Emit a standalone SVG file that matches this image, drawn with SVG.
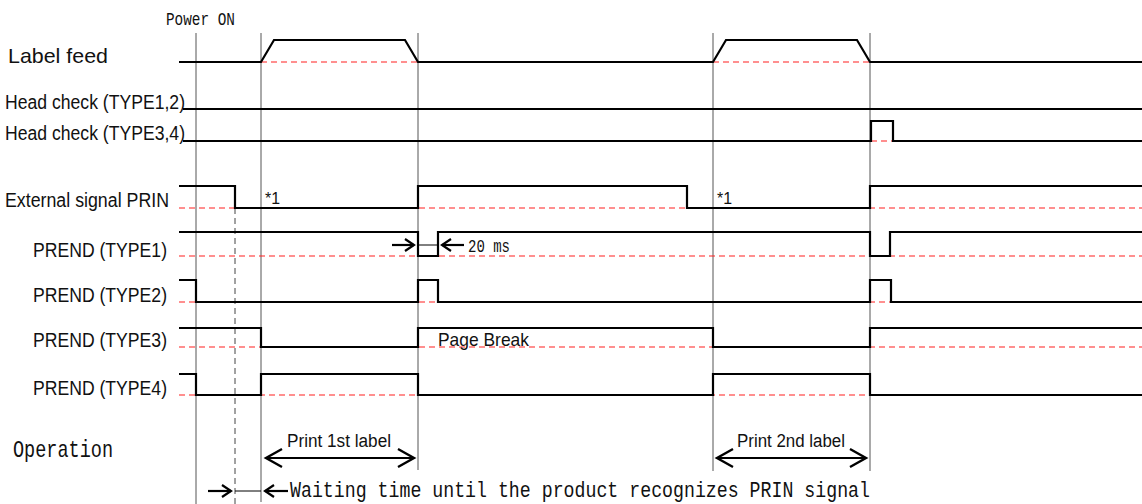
<svg xmlns="http://www.w3.org/2000/svg" width="1142" height="504" viewBox="0 0 1142 504">
<style>
.sig{fill:none;stroke:#000;stroke-width:2.2;stroke-linejoin:miter}
.ref{fill:none;stroke:#ff2020;stroke-width:1.2;stroke-dasharray:6 4}
.vl{fill:none;stroke:#555;stroke-width:1}
.vd{fill:none;stroke:#444;stroke-width:1;stroke-dasharray:6 4}
.thin{fill:none;stroke:#000;stroke-width:1}
.arr{fill:none;stroke:#000;stroke-width:2.2}
.sans{font-family:"Liberation Sans",Arial,sans-serif;fill:#111}
.mono{font-family:"Liberation Mono","Courier New",monospace;fill:#111}
</style>
<defs>
<marker id="big" markerUnits="userSpaceOnUse" markerWidth="22" markerHeight="22" viewBox="0 0 22 22" refX="19" refY="11" orient="auto-start-reverse">
<path d="M3,2 L19,11 L3,20" fill="none" stroke="#000" stroke-width="2.4"/>
</marker>
<marker id="small" markerUnits="userSpaceOnUse" markerWidth="14" markerHeight="16" viewBox="0 0 14 16" refX="12" refY="8" orient="auto-start-reverse">
<path d="M3,2 L12,8 L3,14" fill="none" stroke="#000" stroke-width="2.2"/>
</marker>
</defs>

<g id="gridlines">
<line class="vl" x1="196" y1="33" x2="196" y2="504"/>
<line class="vl" x1="261" y1="33" x2="261" y2="502"/>
<line class="vl" x1="418" y1="33" x2="418" y2="470"/>
<line class="vl" x1="713" y1="33" x2="713" y2="471"/>
<line class="vl" x1="870" y1="33" x2="870" y2="471"/>
<line class="vd" x1="235" y1="208" x2="235" y2="504"/>
</g>

<g id="power-on">
<text class="mono" x="166" y="25" font-size="19" textLength="69" lengthAdjust="spacingAndGlyphs">Power ON</text>
</g>

<g id="label-feed">
<text class="sans" x="8" y="63" font-size="21" textLength="100" lengthAdjust="spacingAndGlyphs">Label feed</text>
<line class="ref" x1="261" y1="62" x2="418" y2="62"/>
<line class="ref" x1="713" y1="62" x2="870" y2="62"/>
<polyline class="sig" points="179,62 261,62 274,40 405,40 418,62 713,62 726,40 857,40 870,62 1142,62"/>
</g>

<g id="head-check-12">
<text class="sans" x="5" y="109" font-size="20" textLength="180" lengthAdjust="spacingAndGlyphs">Head check (TYPE1,2)</text>
<line class="sig" x1="183" y1="109" x2="1142" y2="109"/>
</g>

<g id="head-check-34">
<text class="sans" x="5" y="140" font-size="20" textLength="180" lengthAdjust="spacingAndGlyphs">Head check (TYPE3,4)</text>
<line class="ref" x1="871" y1="141" x2="893" y2="141"/>
<polyline class="sig" points="183,141 871,141 871,121 893,121 893,141 1142,141"/>
</g>

<g id="prin">
<text class="sans" x="5" y="207" font-size="20" textLength="164" lengthAdjust="spacingAndGlyphs">External signal PRIN</text>
<line class="ref" x1="179" y1="208" x2="1142" y2="208"/>
<polyline class="sig" points="179,186 235,186 235,208 418,208 418,186 687,186 687,208 870,208 870,186 1142,186"/>
<text class="sans" x="265" y="204" font-size="16" textLength="15" lengthAdjust="spacingAndGlyphs">*1</text>
<text class="sans" x="717" y="204" font-size="16" textLength="15" lengthAdjust="spacingAndGlyphs">*1</text>
</g>

<g id="prend1">
<text class="sans" x="33" y="257" font-size="20" textLength="134" lengthAdjust="spacingAndGlyphs">PREND (TYPE1)</text>
<line class="ref" x1="179" y1="256" x2="1142" y2="256"/>
<polyline class="sig" points="179,232 418,232 418,256 438,256 438,232 870,232 870,256 890,256 890,232 1142,232"/>
<line class="thin" x1="418" y1="245" x2="438" y2="245"/>
<text class="mono" x="468" y="252" font-size="19" textLength="42" lengthAdjust="spacingAndGlyphs">20 ms</text>
</g>

<g id="prend2">
<text class="sans" x="33" y="302" font-size="20" textLength="134" lengthAdjust="spacingAndGlyphs">PREND (TYPE2)</text>
<line class="ref" x1="179" y1="302" x2="1142" y2="302"/>
<polyline class="sig" points="179,280 196,280 196,302 418,302 418,280 438,280 438,302 870,302 870,280 891,280 891,302 1142,302"/>
</g>

<g id="prend3">
<text class="sans" x="33" y="347" font-size="20" textLength="134" lengthAdjust="spacingAndGlyphs">PREND (TYPE3)</text>
<line class="ref" x1="179" y1="347" x2="1142" y2="347"/>
<polyline class="sig" points="179,328 261,328 261,347 418,347 418,328 713,328 713,347 870,347 870,328 1142,328"/>
<text class="sans" x="438" y="346" font-size="19" textLength="91" lengthAdjust="spacingAndGlyphs">Page Break</text>
</g>

<g id="prend4">
<text class="sans" x="33" y="395" font-size="20" textLength="134" lengthAdjust="spacingAndGlyphs">PREND (TYPE4)</text>
<line class="ref" x1="179" y1="395" x2="1142" y2="395"/>
<polyline class="sig" points="179,374 196,374 196,395 261,395 261,374 418,374 418,395 713,395 713,374 870,374 870,395 1142,395"/>
</g>

<g id="operation">
<text class="mono" x="13" y="457" font-size="24" textLength="100" lengthAdjust="spacingAndGlyphs">Operation</text>
<text class="sans" x="287" y="447" font-size="18" textLength="104" lengthAdjust="spacingAndGlyphs">Print 1st label</text>
<text class="sans" x="737" y="447" font-size="18" textLength="108" lengthAdjust="spacingAndGlyphs">Print 2nd label</text>
<text class="mono" x="290" y="497" font-size="22" textLength="580" lengthAdjust="spacingAndGlyphs">Waiting time until the product recognizes PRIN signal</text>
</g>

<g id="connectors">
<line class="arr" x1="266" y1="458" x2="414" y2="458" marker-start="url(#big)" marker-end="url(#big)"/>
<line class="arr" x1="717" y1="458" x2="866" y2="458" marker-start="url(#big)" marker-end="url(#big)"/>
<line class="arr" x1="392" y1="245" x2="414" y2="245" marker-end="url(#small)"/>
<line class="arr" x1="464" y1="245" x2="442" y2="245" marker-end="url(#small)"/>
<line class="arr" x1="208" y1="491" x2="231" y2="491" marker-end="url(#small)"/>
<line class="thin" x1="235" y1="491" x2="261" y2="491"/>
<line class="arr" x1="288" y1="491" x2="265" y2="491" marker-end="url(#small)"/>
</g>
</svg>
